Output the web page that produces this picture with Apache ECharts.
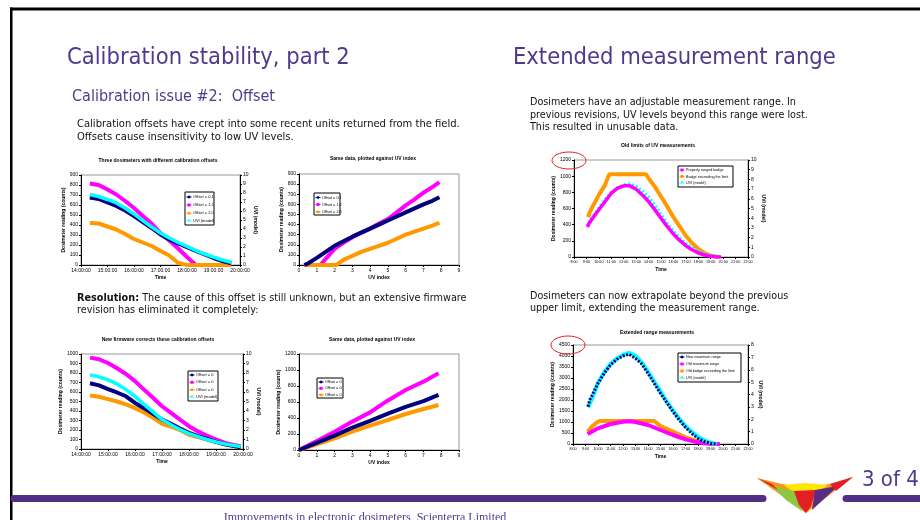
<!DOCTYPE html>
<html><head><meta charset="utf-8">
<script src="https://cdn.jsdelivr.net/npm/echarts@6/dist/echarts.min.js"></script>
<style>html,body{margin:0;padding:0;background:#fff}#c{width:920px;height:520px}</style>
</head><body><div id="c"></div>
<script>
// ---------------- data ----------------
const c1Times = ['14:20','14:40','15:00','15:20','15:40','16:00','16:20','16:40','17:00','17:20','17:40','18:00','18:20','18:40','19:00','19:20','19:40'];
const c1Offset01 = [675,660,625,590,545,490,430,370,305,255,215,178,140,105,70,40,18];
const c1Offset12 = [815,800,755,705,640,570,490,415,320,245,165,80,0,0,0,0,0];
const c1Offset20 = [420,415,385,355,310,260,225,190,140,95,20,0,0,0,0,0,0];
const c1Uvi = [7.83,7.61,7.28,6.89,6.33,5.67,4.94,4.22,3.56,3.0,2.5,2.06,1.61,1.22,0.87,0.56,0.31];

const c2Offset01 = [[0.3,0],[0.5,15],[1,70],[1.5,130],[2,190],[2.5,235],[3,280],[3.5,320],[4,360],[4.5,400],[5,440],[5.5,480],[6,520],[6.5,560],[7,600],[7.5,635],[7.9,670]];
const c2Offset12 = [[0.3,0],[1.2,0],[1.5,60],[2,160],[2.5,220],[3,275],[3.5,320],[4,360],[4.5,410],[5,455],[5.5,520],[6,590],[6.5,650],[7,715],[7.5,770],[7.9,820]];
const c2Offset20 = [[0.3,0],[2.1,0],[2.5,50],[3,90],[3.5,130],[4,160],[4.5,190],[5,220],[5.5,260],[6,300],[6.5,330],[7,360],[7.5,390],[7.9,418]];

const c3Times = ['14:20','14:40','15:00','15:20','15:40','16:00','16:20','16:40','17:00','17:20','17:40','18:00','18:20','18:40','19:00','19:20','19:40','19:55'];
const c3Navy = [692,670,630,595,555,485,430,370,310,265,215,170,135,105,75,50,32,18];
const c3Magenta = [962,945,905,850,790,715,625,540,450,380,310,240,185,140,100,65,42,28];
const c3Orange = [563,550,525,500,470,430,385,330,265,235,200,150,125,100,72,50,30,15];
const c3Uvi = [7.8,7.6,7.28,6.85,6.25,5.55,4.7,3.9,3.1,2.55,2.05,1.62,1.3,1.0,0.74,0.52,0.36,0.25];

const c4Uv = [0,1,2,3,4,5,6,7,7.85];
const c4Navy = [0,90,180,280,365,455,540,612,688];
const c4Magenta = [0,112,229,355,470,620,750,854,960];
const c4Orange = [0,71,146,229,304,375,450,512,562];

const c5Orange = [['9:08',493],['9:15',550],['9:30',625],['10:00',768],['10:30',892],['10:50',1025],['13:47',1025],['14:00',974],['14:30',871],['15:00',748],['15:30',625],['16:00',493],['16:30',378],['17:00',263],['17:30',173],['18:00',99],['18:30',49],['19:00',16],['19:30',2],['19:45',0]];
const c5Magenta = [['9:05',370],['9:15',427],['9:30',481],['10:00',584],['10:30',686],['11:00',789],['11:30',851],['12:00',880],['12:30',880],['13:00',838],['13:30',768],['14:00',686],['14:30',584],['15:00',481],['15:30',378],['16:00',284],['16:30',205],['17:00',140],['17:30',90],['18:00',49],['18:30',25],['19:00',8],['19:30',0],['19:50',0]];
const c5Uvi = [['9:05',3.2],['9:30',4.1],['10:00',5.03],['10:30',5.9],['11:00',6.64],['11:30',7.1],['12:00',7.43],['12:30',7.5],['13:00',7.26],['13:30',6.8],['14:00',6.16],['14:30',5.3],['15:00',4.35],['15:30',3.45],['16:00',2.64],['16:30',1.95],['17:00',1.37],['17:30',0.92],['18:00',0.58],['18:30',0.32],['19:00',0.14],['19:30',0.03],['19:40',0]];

const c6Navy = [['9:12',1697],['9:20',2000],['9:30',2182],['10:00',2758],['10:30',3212],['11:00',3591],['11:30',3848],['12:00',4000],['12:30',4076],['13:00',3894],['13:30',3636],['14:00',3212],['14:30',2758],['15:00',2303],['15:30',1879],['16:00',1470],['16:30',1091],['17:00',758],['17:30',485],['18:00',258],['18:30',121],['19:00',30],['19:30',0]];
const c6Magenta = [['9:10',455],['10:00',712],['11:00',909],['12:00',1015],['12:30',1030],['13:00',1000],['14:00',864],['15:00',636],['16:00',409],['17:00',212],['18:00',76],['18:30',30],['19:00',8],['19:30',0],['19:45',0]];
const c6Orange = [['9:10',560],['9:30',788],['10:00',1015],['10:10',1045],['14:30',1045],['15:00',818],['16:00',560],['17:00',303],['18:00',121],['18:30',55],['19:00',15],['19:30',0]];
const c6Uvi = [['9:12',2.96],['9:30',3.6],['10:00',4.96],['10:30',5.8],['11:00',6.47],['11:30',6.9],['12:00',7.2],['12:30',7.38],['13:00',7.12],['13:30',6.6],['14:00',5.85],['14:30',5.05],['15:00',4.23],['15:30',3.45],['16:00',2.7],['16:30',2.05],['17:00',1.46],['17:30',0.98],['18:00',0.59],['18:30',0.3],['19:00',0.11],['19:30',0]];

// ---------------- helpers ----------------
const hm = s => { const p = s.split(':'); return +p[0] + (+p[1]) / 60; };
const zipT = (times, vals) => times.map((t, i) => [hm(t), vals[i]]);
const pairT = arr => arr.map(d => [hm(d[0]), d[1]]);
const zipX = (xs, vals) => xs.map((x, i) => [x, vals[i]]);

const NAVY = '#000080', MAG = '#ff00ff', ORA = '#ff9900', CYA = '#00ffff';
const PURPLE = '#4e3a8c';
const FS = "'Liberation Sans Narrow','DejaVu Sans Condensed',sans-serif";
const FA = "'Liberation Sans',Arial,sans-serif";

const axBase = {
  axisLine: { show: true, onZero: false, lineStyle: { color: '#000', width: 1 } },
  axisTick: { show: true, length: 2, lineStyle: { color: '#000' } },
  axisLabel: { fontSize: 5, color: '#000', margin: 3, fontFamily: FA, hideOverlap: false, formatter: v => String(v) },
  splitLine: { show: false },
  nameTextStyle: { fontSize: 5, fontWeight: 'bold', color: '#000', fontFamily: FA }
};
function xA(grid, min, max, fmt, name, fsz) {
  return Object.assign({}, axBase, { type: 'value', gridIndex: grid, min, max, interval: 1,
    axisLabel: Object.assign({}, axBase.axisLabel, { formatter: fmt, fontSize: fsz || 5 }),
    name, nameLocation: 'middle', nameGap: 10 });
}
function yA(grid, min, max, interval, pos, name, gap) {
  return Object.assign({}, axBase, { type: 'value', gridIndex: grid, min, max, interval, position: pos,
    name, nameLocation: 'middle', nameGap: gap, nameRotate: pos === 'right' ? -90 : 90 });
}
function ln(xi, yi, data, color, width, dash, z) {
  return { type: 'line', xAxisIndex: xi, yAxisIndex: yi, data, symbol: 'none', silent: true,
    lineStyle: { color, width, type: dash || 'solid' }, itemStyle: { color }, z: z || 2, animation: false };
}
const fmtHMS = v => v + ':00:00';
const fmtHM = v => v + ':00';
const fmtN = v => String(v);

// ---------------- graphics ----------------
const G = [];
function txt(x, y, text, size, color, font, extra, z) {
  G.push({ type: 'text', x, y, silent: true, z: z || 50,
    style: Object.assign({ text, fontSize: size, fill: color, fontFamily: font, verticalAlign: 'middle', align: 'left' }, extra || {}) });
}
function sym(x, y, kind, color) {
  if (kind === 'diamond') G.push({ type: 'polygon', silent: true, z: 61, shape: { points: [[x, y - 1.8], [x + 1.8, y], [x, y + 1.8], [x - 1.8, y]] }, style: { fill: color } });
  else if (kind === 'rect') G.push({ type: 'rect', silent: true, z: 61, shape: { x: x - 1.5, y: y - 1.5, width: 3, height: 3 }, style: { fill: color } });
  else if (kind === 'tri') G.push({ type: 'polygon', silent: true, z: 61, shape: { points: [[x, y - 1.8], [x + 1.8, y + 1.4], [x - 1.8, y + 1.4]] }, style: { fill: color } });
  else G.push({ type: 'text', silent: true, z: 61, x, y: y + 0.8, style: { text: '*', fontSize: 6, fill: color, align: 'center', verticalAlign: 'middle', fontFamily: FA, fontWeight: 'bold' } });
}
function legendBox(x, y, w, h, y0, dy, items, fsz) {
  G.push({ type: 'rect', silent: true, z: 59, shape: { x, y, width: w, height: h }, style: { fill: '#fff', stroke: '#000', lineWidth: 1 } });
  items.forEach((it, i) => {
    const yy = y0 + i * dy;
    G.push({ type: 'line', silent: true, z: 60, shape: { x1: x + 1.5, y1: yy, x2: x + 6.5, y2: yy }, style: { stroke: it[1], lineWidth: 1 } });
    sym(x + 4, yy, it[2], it[1]);
    txt(x + 8, yy, it[0], fsz, '#000', FA, null, 62);
  });
}
function ctitle(x, y, t) { txt(x, y, t, 5, '#000', FA, { align: 'center', fontWeight: 'bold' }); }

// frame
G.push({ type: 'rect', silent: true, z: 1, shape: { x: 10, y: 7.5, width: 912, height: 3 }, style: { fill: '#000' } });
G.push({ type: 'rect', silent: true, z: 1, shape: { x: 10, y: 7.5, width: 2.5, height: 520 }, style: { fill: '#000' } });
// purple band
G.push({ type: 'line', silent: true, z: 1, shape: { x1: 14, y1: 498.5, x2: 763, y2: 498.5 }, style: { stroke: '#4f2f87', lineWidth: 7, lineCap: 'round' } });
G.push({ type: 'line', silent: true, z: 1, shape: { x1: 846, y1: 498.5, x2: 930, y2: 498.5 }, style: { stroke: '#4f2f87', lineWidth: 7, lineCap: 'round' } });
// logo
const logo = [
  ['#f7941d', [[757, 478], [782, 484], [805, 487], [830, 484], [853, 477], [806, 513]]],
  ['#ffe600', [[784, 485], [805, 483], [828, 485], [816, 494], [795, 494]]],
  ['#8dc63f', [[772, 486], [795, 491], [802, 511], [786, 500]]],
  ['#e31e24', [[794, 491], [816, 490], [811, 506], [806, 513], [799, 505]]],
  ['#5b2c86', [[815, 490], [838, 486], [812, 510]]],
  ['#e31e24', [[830, 484], [853, 477], [836, 491]]],
  ['#e31e24', [[757, 478], [772, 484], [778, 490]]]
];
logo.forEach(p => G.push({ type: 'polygon', silent: true, z: 2, shape: { points: p[1] }, style: { fill: p[0] } }));
txt(862, 480, '3 of 4', 22, PURPLE, FS);
txt(365, 518, 'Improvements in electronic dosimeters, Scienterra Limited', 12, PURPLE, "'Liberation Serif',serif", { align: 'center' });

// slide text
txt(67, 58, 'Calibration stability, part 2', 23.5, PURPLE, FS);
txt(513, 58, 'Extended measurement range', 23.5, PURPLE, FS);
txt(72, 97, 'Calibration issue #2:  Offset', 16, PURPLE, FS);
txt(77, 124, 'Calibration offsets have crept into some recent units returned from the field.', 11.1, '#111', FS);
txt(77, 137, 'Offsets cause insensitivity to low UV levels.', 11.1, '#111', FS);
G.push({ type: 'text', x: 77, y: 298, silent: true, z: 50, style: { text: '{b|Resolution:} The cause of this offset is still unknown, but an extensive firmware', fontSize: 9.7, fill: '#111', fontFamily: "'DejaVu Sans',sans-serif", verticalAlign: 'middle', rich: { b: { fontWeight: 'bold', fontSize: 9.7, fill: '#111', fontFamily: "'DejaVu Sans',sans-serif" } } } });
txt(77, 310, 'revision has eliminated it completely:', 9.7, '#111', "'DejaVu Sans',sans-serif");
txt(530, 102, 'Dosimeters have an adjustable measurement range. In', 10.7, '#111', FS);
txt(530, 115, 'previous revisions, UV levels beyond this range were lost.', 10.7, '#111', FS);
txt(530, 127, 'This resulted in unusable data.', 10.7, '#111', FS);
txt(530, 296, 'Dosimeters can now extrapolate beyond the previous', 10.7, '#111', FS);
txt(530, 308, 'upper limit, extending the measurement range.', 10.7, '#111', FS);

// chart titles
ctitle(158, 161, 'Three dosimeters with different calibration offsets');
ctitle(373, 159, 'Same data, plotted against UV index');
ctitle(158, 340, 'New firmware corrects these calibration offsets');
ctitle(372, 340, 'Same data, plotted against UV index');
ctitle(658, 146, 'Old limits of UV measurements');
ctitle(657, 333, 'Extended range measurements');

// legends
legendBox(185, 192, 29, 33, 197, 8, [['Offset = 0.1', NAVY, 'diamond'], ['Offset = 1.2', MAG, 'rect'], ['Offset = 2.0', ORA, 'tri'], ['UVI (model)', CYA, 'star']], 4);
legendBox(314, 193, 26, 22, 197.5, 7, [['Offset = 0.1', NAVY, 'diamond'], ['Offset = 1.2', MAG, 'rect'], ['Offset = 2.0', ORA, 'tri']], 3.8);
legendBox(188, 371, 30, 30, 375, 7.3, [['Offset = 0', NAVY, 'diamond'], ['Offset = 0', MAG, 'rect'], ['Offset = 0', ORA, 'tri'], ['UVI (model)', CYA, 'star']], 4);
legendBox(317, 378, 26, 20, 382, 6.3, [['Offset = 0', NAVY, 'diamond'], ['Offset = 0', MAG, 'rect'], ['Offset = 0', ORA, 'tri']], 3.8);
legendBox(678, 166, 55, 21, 170, 6.5, [['Properly ranged badge', MAG, 'rect'], ['Badge exceeding the limit', ORA, 'rect'], ['UVI (model)', CYA, 'star']], 3.7);
legendBox(678, 353, 63, 29, 357, 7, [['New maximum range', NAVY, 'diamond'], ['Old maximum range', MAG, 'rect'], ['Old badge exceeding the limit', ORA, 'rect'], ['UVI (model)', CYA, 'star']], 3.7);

// red ellipses
G.push({ type: 'ellipse', silent: true, z: 70, shape: { cx: 569, cy: 160.5, rx: 17, ry: 8.5 }, style: { fill: null, stroke: '#e02020', lineWidth: 1 } });
G.push({ type: 'ellipse', silent: true, z: 70, shape: { cx: 568, cy: 345, rx: 17, ry: 9 }, style: { fill: null, stroke: '#e02020', lineWidth: 1 } });

// ---------------- chart ----------------
const gridStyle = { show: true, borderColor: '#999', borderWidth: 1, backgroundColor: 'transparent' };
const option = {
  animation: false,
  backgroundColor: '#fff',
  grid: [
    Object.assign({ left: 81, top: 175, width: 159, height: 90 }, gridStyle),
    Object.assign({ left: 299, top: 174, width: 160, height: 91 }, gridStyle),
    Object.assign({ left: 81, top: 354, width: 162, height: 95 }, gridStyle),
    Object.assign({ left: 299, top: 354, width: 160, height: 96 }, gridStyle),
    Object.assign({ left: 574, top: 160, width: 174, height: 97 }, gridStyle),
    Object.assign({ left: 573, top: 345, width: 175, height: 99 }, gridStyle)
  ],
  xAxis: [
    xA(0, 14, 20, fmtHMS, 'Time'),
    xA(1, 0, 9, fmtN, 'UV index'),
    xA(2, 14, 20, fmtHMS, 'Time'),
    xA(3, 0, 9, fmtN, 'UV index'),
    xA(4, 8, 22, fmtHM, 'Time', 3.7),
    xA(5, 8, 22, fmtHM, 'Time', 3.7)
  ],
  yAxis: [
    yA(0, 0, 900, 100, 'left', 'Dosimeter reading (counts)', 15),
    yA(0, 0, 10, 1, 'right', 'UVI (model)', 9),
    yA(1, 0, 900, 100, 'left', 'Dosimeter reading (counts)', 15),
    yA(2, 0, 1000, 100, 'left', 'Dosimeter reading (counts)', 16),
    yA(2, 0, 10, 1, 'right', 'UVI (model)', 9),
    yA(3, 0, 1200, 200, 'left', 'Dosimeter reading (counts)', 16),
    yA(4, 0, 1200, 200, 'left', 'Dosimeter reading (counts)', 15),
    yA(4, 0, 10, 1, 'right', 'UVI (model)', 9),
    yA(5, 0, 4500, 500, 'left', 'Dosimeter reading (counts)', 16),
    yA(5, 0, 8, 1, 'right', 'UVI (model)', 9)
  ],
  series: [
    ln(0, 0, zipT(c1Times, c1Offset12), MAG, 4),
    ln(0, 0, zipT(c1Times, c1Offset20), ORA, 4),
    ln(0, 0, zipT(c1Times, c1Offset01), NAVY, 4, null, 3),
    ln(0, 1, zipT(c1Times, c1Uvi), CYA, 3.5, null, 4),

    ln(1, 2, c2Offset12, MAG, 4),
    ln(1, 2, c2Offset20, ORA, 4),
    ln(1, 2, c2Offset01, NAVY, 4, null, 3),

    ln(2, 3, zipT(c3Times, c3Magenta), MAG, 4),
    ln(2, 3, zipT(c3Times, c3Orange), ORA, 4),
    ln(2, 3, zipT(c3Times, c3Navy), NAVY, 4, null, 3),
    ln(2, 4, zipT(c3Times, c3Uvi), CYA, 3.5, null, 4),

    ln(3, 5, zipX(c4Uv, c4Magenta), MAG, 4),
    ln(3, 5, zipX(c4Uv, c4Orange), ORA, 4),
    ln(3, 5, zipX(c4Uv, c4Navy), NAVY, 4, null, 3),

    ln(4, 6, pairT(c5Orange), ORA, 4),
    ln(4, 7, pairT(c5Uvi), CYA, 3.5, [2, 2], 3),
    ln(4, 6, pairT(c5Magenta), MAG, 3.5, null, 3),

    ln(5, 8, pairT(c6Orange), ORA, 4),
    ln(5, 8, pairT(c6Magenta), MAG, 4, null, 3),
    ln(5, 9, pairT(c6Uvi), CYA, 4, null, 3),
    ln(5, 8, pairT(c6Navy), NAVY, 3, [2, 1.5], 4)
  ],
  graphic: { elements: G }
};
const chart = echarts.init(document.getElementById('c'), null, { renderer: 'canvas' });
chart.setOption(option);
</script>
</body></html>
